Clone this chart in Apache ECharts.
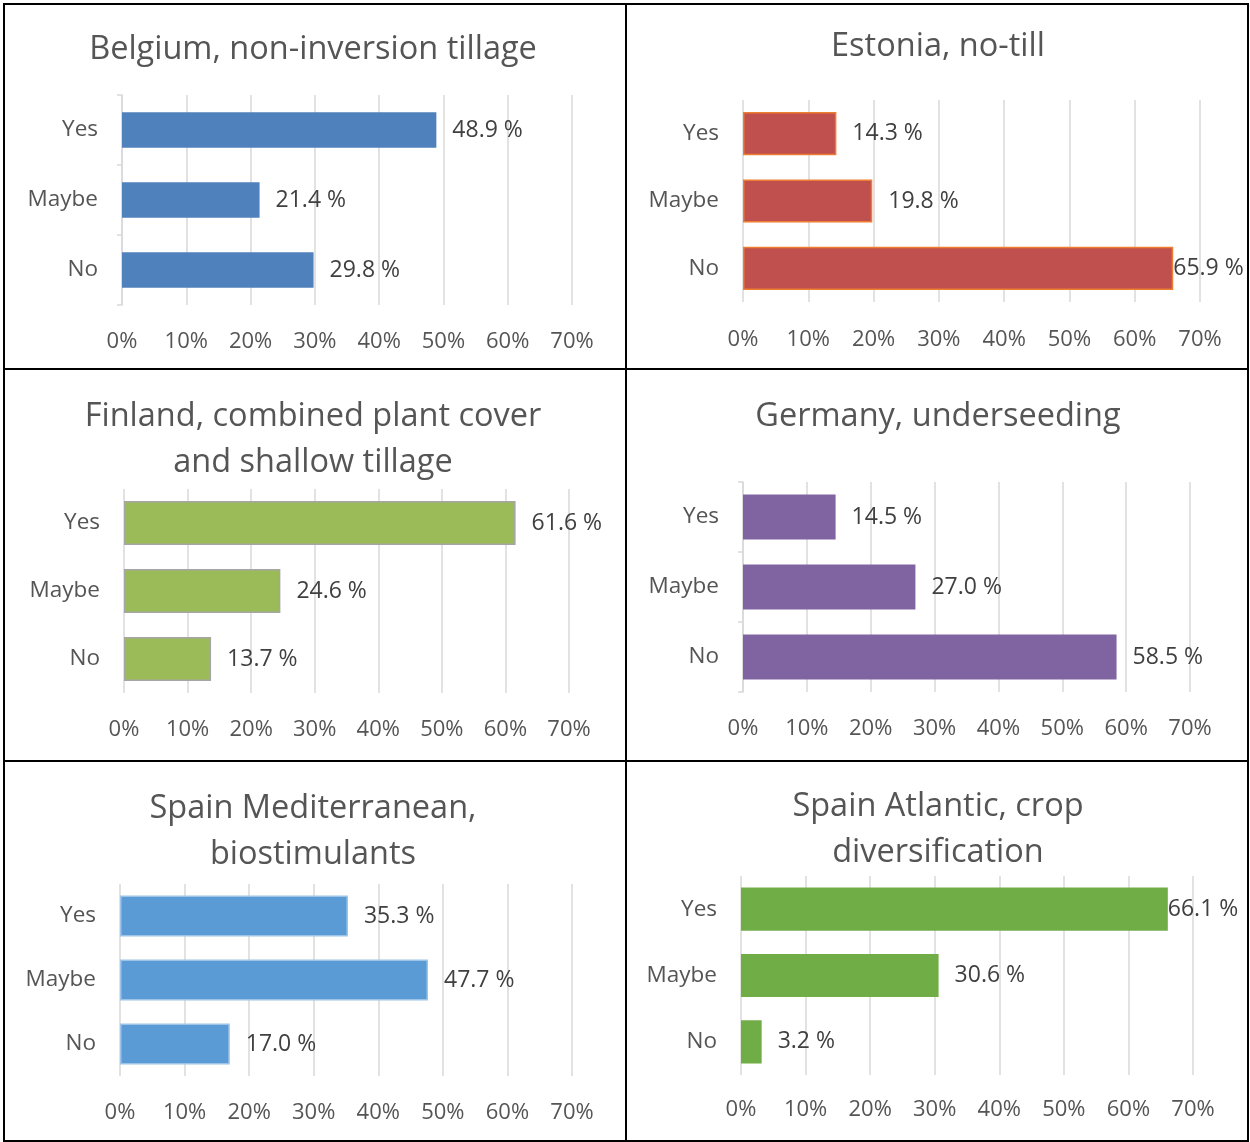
<!DOCTYPE html>
<html>
<head>
<meta charset="utf-8">
<script src="https://cdn.jsdelivr.net/npm/echarts@6/dist/echarts.min.js"></script>
<style>
  html, body { margin: 0; padding: 0; background: #fff; }
  body { width: 1250px; height: 1142px; position: relative; overflow: hidden; }
  .panel { position: absolute; }
  .ln { position: absolute; background: #000; }
</style>
</head>
<body>
<div id="p0" class="panel" style="left:0;top:0;width:626px;height:369px"></div>
<div id="p1" class="panel" style="left:626px;top:0;width:624px;height:369px"></div>
<div id="p2" class="panel" style="left:0;top:369px;width:626px;height:392px"></div>
<div id="p3" class="panel" style="left:626px;top:369px;width:624px;height:392px"></div>
<div id="p4" class="panel" style="left:0;top:761px;width:626px;height:381px"></div>
<div id="p5" class="panel" style="left:626px;top:761px;width:624px;height:381px"></div>
<div class="ln" style="left:3px;top:3px;width:1246px;height:2px"></div>
<div class="ln" style="left:3px;top:3px;width:2px;height:1139px"></div>
<div class="ln" style="left:1247px;top:3px;width:2px;height:1139px"></div>
<div class="ln" style="left:3px;top:1140px;width:1246px;height:2px"></div>
<div class="ln" style="left:625px;top:3px;width:2px;height:1139px"></div>
<div class="ln" style="left:3px;top:368px;width:1246px;height:2px"></div>
<div class="ln" style="left:3px;top:760px;width:1246px;height:2px"></div>
<script>
// ---- data ----
const categories = ['Yes', 'Maybe', 'No'];
const xTicks = [0, 10, 20, 30, 40, 50, 60, 70];
const titles = [
  'Belgium, non-inversion tillage',
  'Estonia, no-till',
  'Finland, combined plant cover\nand shallow tillage',
  'Germany, underseeding',
  'Spain Mediterranean,\nbiostimulants',
  'Spain Atlantic, crop\ndiversification'
];
const belgium = [48.9, 21.4, 29.8];
const estonia = [14.3, 19.8, 65.9];
const finland = [61.6, 24.6, 13.7];
const germany = [14.5, 27.0, 58.5];
const spainMed = [35.3, 47.7, 17.0];
const spainAtl = [66.1, 30.6, 3.2];
const seriesValues = [belgium, estonia, finland, germany, spainMed, spainAtl];

// ---- styling / layout (not data) ----
const FONT = '"Open Sans", Lato, sans-serif';
const layout = [
  { left: 122, top: 95,  width: 450, height: 210, titleTop: 22, xm: 26, color: '#4F81BD', border: null, ticks: true,  barW: '51%', labDist: [16,16,16] },
  { left: 117, top: 100, width: 457, height: 202, titleTop: 19, xm: 27, color: '#C0504D', border: '#ED7D31', ticks: false, barW: '64%', labDist: [16,16,0] },
  { left: 124, top: 120, width: 445, height: 204, titleTop: 20, xm: 26, color: '#9BBB59', border: '#A5A5A5', ticks: false, barW: '65%', labDist: [16,16,16] },
  { left: 117, top: 113, width: 447, height: 210, titleTop: 20, xm: 26, color: '#8064A2', border: null, ticks: true,  barW: '64%', labDist: [16,16,16] },
  { left: 120, top: 123, width: 452, height: 192, titleTop: 20, xm: 26, color: '#5B9BD5', border: '#9DC3E6', ticks: false, barW: '64%', labDist: [16,16,16] },
  { left: 115, top: 115, width: 452, height: 199, titleTop: 18, xm: 24, color: '#70AD47', border: null, ticks: false, barW: '65%', labDist: [0,16,16] }
];

seriesValues.forEach((vals, i) => {
  const L = layout[i];
  const chart = echarts.init(document.getElementById('p' + i), null, { renderer: 'canvas' });
  chart.setOption({
    animation: false,
    title: {
      text: titles[i],
      left: 'center',
      top: L.titleTop,
      textStyle: { fontFamily: FONT, fontSize: 32.5, fontWeight: 'normal', color: '#555555', lineHeight: 46 }
    },
    grid: { left: L.left, top: L.top, width: L.width, height: L.height, containLabel: false },
    xAxis: {
      type: 'value',
      min: xTicks[0],
      max: xTicks[xTicks.length - 1],
      interval: 10,
      axisLine: { show: false },
      axisTick: { show: false },
      axisLabel: { formatter: '{value}%', fontFamily: FONT, fontSize: 22, color: '#555555', margin: L.xm },
      splitLine: { show: true, lineStyle: { color: '#D9D9D9', width: 1.5 } }
    },
    yAxis: {
      type: 'category',
      data: categories,
      inverse: true,
      axisLine: { show: L.ticks, lineStyle: { color: '#D9D9D9', width: 1.5 } },
      axisTick: { show: L.ticks, length: 5, lineStyle: { color: '#D9D9D9', width: 1.5 } },
      axisLabel: { fontFamily: FONT, fontSize: 22.5, color: '#555555', margin: 24 },
      splitLine: { show: false }
    },
    series: [{
      type: 'bar',
      barWidth: L.barW,
      data: vals.map((v, k) => ({ value: v, label: { distance: L.labDist[k] } })),
      itemStyle: {
        color: L.color,
        borderColor: L.border || L.color,
        borderWidth: L.border ? 1.5 : 0
      },
      label: {
        show: true,
        position: 'right',
        formatter: p => p.value.toFixed(1) + ' %',
        fontFamily: FONT,
        fontSize: 23,
        color: '#404040'
      }
    }]
  });
});
</script>
</body>
</html>
